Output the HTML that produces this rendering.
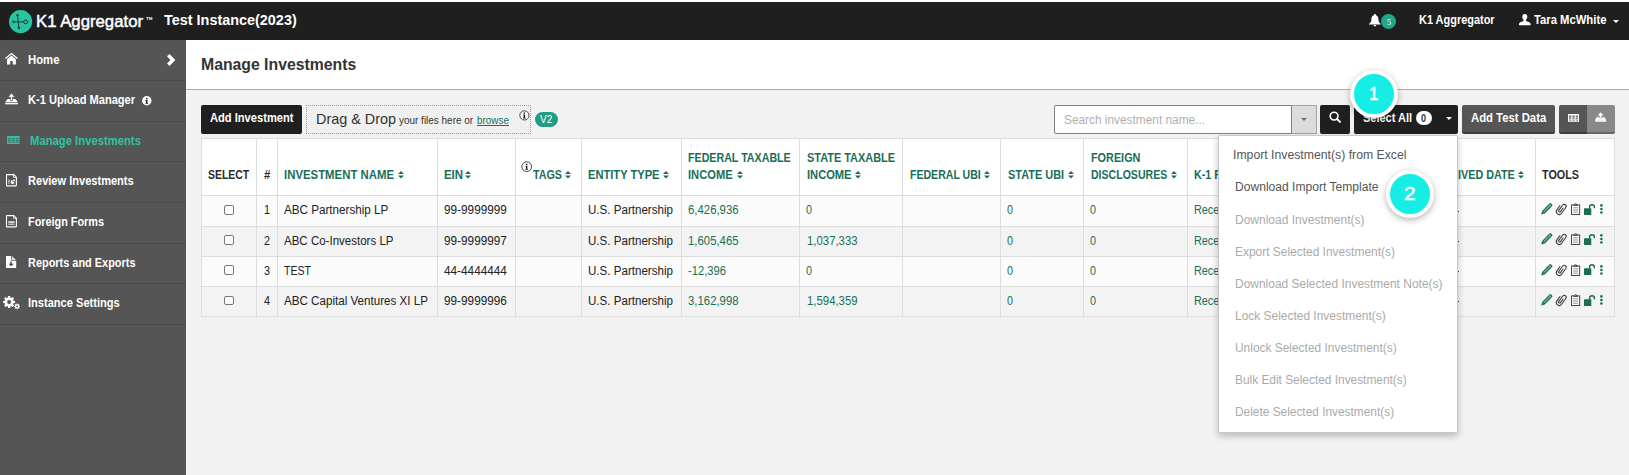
<!DOCTYPE html>
<html><head><meta charset="utf-8"><title>Manage Investments</title>
<style>
*{box-sizing:border-box;margin:0;padding:0}
html,body{width:1629px;height:475px;overflow:hidden;background:#f2f2f2;font-family:"Liberation Sans",sans-serif}
.a{position:absolute}
.t{position:absolute;white-space:pre;line-height:20px;height:20px;transform-origin:0 50%}
svg{position:absolute;overflow:visible}
.vl{position:absolute;top:138px;width:1px;height:179px;background:#ddd}
.hl{position:absolute;left:201px;width:1414px;height:1px;background:#ddd}
.sep{position:absolute;left:0;width:186px;height:1px;background:#494949}
.ball{position:absolute;width:48px;height:48px;border-radius:50%;background:#16eee5;border:4px solid #fff;box-shadow:0 2px 6px rgba(0,0,0,.3)}
</style></head><body>
<div class="a" style="left:0;top:0;width:1629px;height:2px;background:#fff"></div>
<div class="a" style="left:0;top:2px;width:1629px;height:38px;background:#1f1f1f"></div>
<div class="a" style="left:0;top:40px;width:186px;height:435px;background:#555"></div>
<div class="sep" style="top:80px"></div>
<div class="sep" style="top:121px"></div>
<div class="sep" style="top:161px"></div>
<div class="sep" style="top:202px"></div>
<div class="sep" style="top:243px"></div>
<div class="sep" style="top:283px"></div>
<div class="sep" style="top:324px"></div>
<div class="a" style="left:186px;top:40px;width:1443px;height:49px;background:#fff"></div>
<div class="a" style="left:186px;top:89px;width:1443px;height:1px;background:#aaa"></div>
<div class="a" style="left:201px;top:105px;width:101px;height:29px;background:#1f1f1f;border-radius:2px"></div>
<div class="a" style="left:306px;top:105px;width:225px;height:29px;border:1px dotted #999;background:#f0f0f0"></div>
<div class="a" style="left:535px;top:112px;width:23px;height:15px;border-radius:8px;background:#1f9e84"></div>
<div class="a" style="left:1054px;top:105px;width:238px;height:29px;background:#fff;border:1px solid #808080;border-radius:2px 0 0 2px"></div>
<div class="a" style="left:1291px;top:105px;width:26px;height:29px;background:#dcdcdc;border:1px solid #a4a4a4;border-left:1px solid #808080"></div>
<div class="a" style="left:1300.600px;top:117.800px;width:0;height:0;border-left:3.400px solid transparent;border-right:3.400px solid transparent;border-top:3.400px solid #707070"></div>
<div class="a" style="left:1320px;top:105px;width:30px;height:29px;background:#1f1f1f;border-radius:2px"></div>
<div class="a" style="left:1354px;top:105px;width:104px;height:29px;background:#1f1f1f;border-radius:2px"></div>
<div class="a" style="left:1416px;top:111px;width:16px;height:14px;border-radius:7px;background:#fff"></div>
<div class="a" style="left:1446px;top:117px;width:0;height:0;border-left:3px solid transparent;border-right:3px solid transparent;border-top:3px solid #fff"></div>
<div class="a" style="left:1462px;top:105px;width:93px;height:29px;background:#555;border-bottom:2px solid #3c3c3c;border-radius:2px"></div>
<div class="a" style="left:1559px;top:105px;width:28px;height:29px;background:#555;border-bottom:2px solid #3c3c3c;border-radius:2px 0 0 2px"></div>
<div class="a" style="left:1587px;top:105px;width:28px;height:29px;background:#888;border-bottom:2px solid #666;border-radius:0 2px 2px 0"></div>
<div class="a" style="left:201px;top:138px;width:1414px;height:58px;background:#fff"></div>
<div class="a" style="left:201px;top:195px;width:1414px;height:31px;background:#fbfbfb"></div>
<div class="a" style="left:201px;top:226px;width:1414px;height:30px;background:#f3f3f3"></div>
<div class="a" style="left:201px;top:256px;width:1414px;height:30px;background:#fbfbfb"></div>
<div class="a" style="left:201px;top:286px;width:1414px;height:30px;background:#f3f3f3"></div>
<div class="hl" style="top:138px"></div>
<div class="hl" style="top:195px"></div>
<div class="hl" style="top:226px"></div>
<div class="hl" style="top:256px"></div>
<div class="hl" style="top:286px"></div>
<div class="hl" style="top:316px"></div>
<div class="vl" style="left:201px"></div>
<div class="vl" style="left:256px"></div>
<div class="vl" style="left:277px"></div>
<div class="vl" style="left:437px"></div>
<div class="vl" style="left:515px"></div>
<div class="vl" style="left:581px"></div>
<div class="vl" style="left:681px"></div>
<div class="vl" style="left:799px"></div>
<div class="vl" style="left:902px"></div>
<div class="vl" style="left:1000px"></div>
<div class="vl" style="left:1083px"></div>
<div class="vl" style="left:1187px"></div>
<div class="vl" style="left:1535px"></div>
<div class="vl" style="left:1614px"></div>
<div class="a" style="left:224px;top:205.0px;width:9.5px;height:9.5px;border:1px solid #777;border-radius:2px;background:#fff"></div>
<div class="a" style="left:224px;top:235.2px;width:9.5px;height:9.5px;border:1px solid #777;border-radius:2px;background:#fff"></div>
<div class="a" style="left:224px;top:265.4px;width:9.5px;height:9.5px;border:1px solid #777;border-radius:2px;background:#fff"></div>
<div class="a" style="left:224px;top:295.6px;width:9.5px;height:9.5px;border:1px solid #777;border-radius:2px;background:#fff"></div>
<svg style="left:8.8px;top:9.7px" width="23.2" height="23.2" viewBox="0 0 23.2 23.2"><circle cx="11.6" cy="11.6" r="11.6" fill="#28c4a0"/><g stroke="#173029" stroke-width="0.95" fill="none"><path d="M8.6 6.2L9.3 11.6L9.8 17M5.300 11.900H14.600"/><circle cx="8.500" cy="5.300" r="0.9"/><circle cx="9.800" cy="17.900" r="0.9"/><circle cx="4.500" cy="11.900" r="0.9"/><circle cx="16.600" cy="11.900" r="1.9"/></g></svg>
<svg style="left:1368.8px;top:13.5px" width="11.8" height="12.4" viewBox="0 0 11.8 12.4"><path fill="#fff" d="M5.900 0C5.300 0 4.900 .4 4.900 1v.3C3.300 1.800 2.400 3.200 2.400 5c0 2.600-.8 3.900-2.400 4.900v.7h11.800v-.7C10.200 8.900 9.400 7.600 9.400 5c0-1.800-.9-3.200-2.500-3.700V1C6.900.4 6.500 0 5.900 0zM4.600 11.100a1.300 1.300 0 0 0 2.600 0z"/></svg>
<div class="a" style="left:1381.100px;top:13.800px;width:15.200px;height:15.200px;border-radius:50%;background:#20a88a"></div>
<svg style="left:1518.7px;top:13.5px" width="11.6" height="11.2" viewBox="0 0 11.6 11.2"><path fill="#fff" d="M5.800 0C4.200 0 3.300 1.200 3.300 2.800c0 1.400.6 2.500 1.300 3.100v1C3.200 7.600.2 8.200 0 9.700v1.500h11.600V9.700C11.400 8.200 8.400 7.600 7 6.900v-1c.7-.6 1.300-1.700 1.300-3.100C8.300 1.200 7.400 0 5.800 0z"/></svg>
<div class="a" style="left:1612.700px;top:19.800px;width:0;height:0;border-left:3.400px solid transparent;border-right:3.400px solid transparent;border-top:3.600px solid #fff"></div>
<svg style="left:5px;top:52.7px" width="13" height="11.5" viewBox="0 0 13 11.5"><path d="M0.400 5.500L6.450 0.600L12.500 5.500" stroke="#fff" stroke-width="1.300" fill="none"/><path fill="#fff" d="M2 6.200L6.450 2.600L10.900 6.200V11.400H7.700V8H5.200V11.400H2z"/></svg>
<svg style="left:166.9px;top:54px" width="8.4" height="12" viewBox="0 0 8.4 12"><path fill="#fff" d="M0 2.300L2.500 0L8.300 6L2.500 11.900L0 9.400L3.500 6z"/></svg>
<svg style="left:5px;top:92.8px" width="13.0" height="11.4" viewBox="0 0 13.0 11.4"><g transform="scale(1.0)"><path fill="#fff" d="M2.600 6H10.400L12.900 9.300H0.100z"/><rect fill="#fff" x="0.100" y="9.900" width="12.800" height="1.450"/><path fill="#fff" stroke="#555" stroke-width="0.700" d="M6.500 0L10 4.200H7.500V7.700H5.500V4.200H3z"/></g></svg>
<svg style="left:141.7px;top:96.3px" width="9.6" height="9.6" viewBox="0 0 9.6 9.6"><circle cx="4.800" cy="4.800" r="4.700" fill="#fff"/><rect x="4.100" y="1.900" width="1.400" height="1.400" fill="#111"/><path fill="#111" d="M3.600 4.100H5.500V7H6.100V7.800H3.500V7H4.100V4.900H3.600z"/></svg>
<svg style="left:7.1px;top:136.1px" width="12.6" height="8" viewBox="0 0 12.6 8"><rect width="12.6" height="8" fill="#2dc5a0"/><rect x="0.80" y="2.00" width="3.13" height="1.18" fill="#3a7d6c"/><rect x="4.73" y="2.00" width="3.13" height="1.18" fill="#3a7d6c"/><rect x="8.67" y="2.00" width="3.13" height="1.18" fill="#3a7d6c"/><rect x="0.80" y="3.78" width="3.13" height="1.18" fill="#3a7d6c"/><rect x="4.73" y="3.78" width="3.13" height="1.18" fill="#3a7d6c"/><rect x="8.67" y="3.78" width="3.13" height="1.18" fill="#3a7d6c"/><rect x="0.80" y="5.57" width="3.13" height="1.18" fill="#3a7d6c"/><rect x="4.73" y="5.57" width="3.13" height="1.18" fill="#3a7d6c"/><rect x="8.67" y="5.57" width="3.13" height="1.18" fill="#3a7d6c"/></svg>
<svg style="left:6px;top:173.5px" width="11" height="12.5" viewBox="0 0 11 12.5"><path d="M1.500 0.600H7.800L10.400 3.200V11.300Q10.400 11.900 9.800 11.900H1.100Q0.500 11.900 0.500 11.300V1.200Q0.500 0.600 1.100 0.600z" fill="none" stroke="#fff" stroke-width="1.100"/><path d="M7.600 0.600V3.400H10.400" fill="none" stroke="#fff" stroke-width="0.800"/><rect x="2.200" y="5.600" width="1.400" height="1.100" fill="#ddd"/><rect x="2.200" y="7.200" width="1.400" height="1.100" fill="#fff"/><rect x="2.200" y="8.900" width="1.400" height="0.900" fill="#ccc"/><path d="M6.600 5.900V7.900H8.600A2 2 0 1 1 6.600 5.900z" fill="#fff"/><path d="M7.200 5.300A2 2 0 0 1 9.200 7.300H7.200z" fill="#fff"/></svg>
<svg style="left:6px;top:214.5px" width="11" height="12.5" viewBox="0 0 11 12.5"><path d="M1.500 0.600H7.800L10.400 3.200V11.300Q10.400 11.900 9.800 11.900H1.100Q0.500 11.900 0.500 11.300V1.200Q0.500 0.600 1.100 0.600z" fill="none" stroke="#fff" stroke-width="1.100"/><path d="M7.600 0.600V3.400H10.400" fill="none" stroke="#fff" stroke-width="0.800"/><rect x="2.300" y="6.200" width="6.300" height="2.200" fill="#ddd"/><rect x="2.300" y="9.100" width="6.300" height="0.900" fill="#ccc"/></svg>
<svg style="left:6px;top:255.8px" width="10.3" height="12" viewBox="0 0 10.3 12"><path fill="#fff" d="M0.600 0H5.200V4.200Q5.200 4.800 5.800 4.800H10.200V11.400Q10.200 12 9.600 12H0.600Q0 12 0 11.400V0.600Q0 0 0.600 0z"/><path fill="#e8e8e8" d="M6 0.200L10 4H6z"/><path fill="#444" d="M4.400 5.600H5.800V7.800H7.600L5.100 10.300L2.600 7.800H4.400z"/></svg>
<svg style="left:3px;top:296px" width="17.2" height="13.3" viewBox="0 0 17.2 13.3"><path fill="#fff" d="M10.31 4.71L12.10 4.90L12.10 7.10L10.31 7.29L9.99 8.06L11.12 9.46L9.56 11.02L8.16 9.89L7.39 10.21L7.20 12.00L5.00 12.00L4.81 10.21L4.04 9.89L2.64 11.02L1.08 9.46L2.21 8.06L1.89 7.29L0.10 7.10L0.10 4.90L1.89 4.71L2.21 3.94L1.08 2.54L2.64 0.98L4.04 2.11L4.81 1.79L5.00 0.00L7.20 0.00L7.39 1.79L8.16 2.11L9.56 0.98L11.12 2.54L9.99 3.94z"/><circle cx="6.1" cy="6" r="2" fill="#555"/><path fill="#fff" d="M16.11 9.79L16.95 9.88L16.95 10.92L16.11 11.01L15.95 11.39L16.49 12.05L15.75 12.79L15.09 12.25L14.71 12.41L14.62 13.25L13.58 13.25L13.49 12.41L13.11 12.25L12.45 12.79L11.71 12.05L12.25 11.39L12.09 11.01L11.25 10.92L11.25 9.88L12.09 9.79L12.25 9.41L11.71 8.75L12.45 8.01L13.11 8.55L13.49 8.39L13.58 7.55L14.62 7.55L14.71 8.39L15.09 8.55L15.75 8.01L16.49 8.75L15.95 9.41z"/><circle cx="14.1" cy="10.4" r="0.9" fill="#555"/></svg>
<svg style="left:518.5px;top:110.4px" width="10.8" height="10.8" viewBox="0 0 10.8 10.8"><circle cx="5.4" cy="5.4" r="4.6000000000000005" fill="#fcfcfc" stroke="#333" stroke-width="0.900"/><rect x="4.65" y="2.4000000000000004" width="1.400" height="1.300" fill="#111"/><path fill="#111" d="M4.2 4.4H6.050000000000001V7.6000000000000005H6.6000000000000005V8.4H4.1000000000000005V7.6000000000000005H4.7V5.15H4.2z"/></svg>
<svg style="left:521.3px;top:160.7px" width="11.4" height="11.4" viewBox="0 0 11.4 11.4"><circle cx="5.7" cy="5.7" r="4.9" fill="#fcfcfc" stroke="#333" stroke-width="0.900"/><rect x="4.95" y="2.7" width="1.400" height="1.300" fill="#111"/><path fill="#111" d="M4.5 4.7H6.3500000000000005V7.9H6.9V8.7H4.4V7.9H5.0V5.45H4.5z"/></svg>
<svg style="left:397.6px;top:170.5px" width="6" height="7.6" viewBox="0 0 6 7.6"><path fill="#1a6e57" d="M3 0L6 2.900H0zM0 4.600H6L3 7.500z"/></svg>
<svg style="left:465.2px;top:170.5px" width="6" height="7.6" viewBox="0 0 6 7.6"><path fill="#1a6e57" d="M3 0L6 2.900H0zM0 4.600H6L3 7.500z"/></svg>
<svg style="left:565.2px;top:170.5px" width="6" height="7.6" viewBox="0 0 6 7.6"><path fill="#1a6e57" d="M3 0L6 2.900H0zM0 4.600H6L3 7.500z"/></svg>
<svg style="left:663.2px;top:170.5px" width="6" height="7.6" viewBox="0 0 6 7.6"><path fill="#1a6e57" d="M3 0L6 2.900H0zM0 4.600H6L3 7.500z"/></svg>
<svg style="left:736.7px;top:170.5px" width="6" height="7.6" viewBox="0 0 6 7.6"><path fill="#1a6e57" d="M3 0L6 2.900H0zM0 4.600H6L3 7.500z"/></svg>
<svg style="left:854.7px;top:170.5px" width="6" height="7.6" viewBox="0 0 6 7.6"><path fill="#1a6e57" d="M3 0L6 2.900H0zM0 4.600H6L3 7.500z"/></svg>
<svg style="left:984.3px;top:170.5px" width="6" height="7.6" viewBox="0 0 6 7.6"><path fill="#1a6e57" d="M3 0L6 2.900H0zM0 4.600H6L3 7.500z"/></svg>
<svg style="left:1067.9px;top:170.5px" width="6" height="7.6" viewBox="0 0 6 7.6"><path fill="#1a6e57" d="M3 0L6 2.900H0zM0 4.600H6L3 7.500z"/></svg>
<svg style="left:1171.1px;top:170.5px" width="6" height="7.6" viewBox="0 0 6 7.6"><path fill="#1a6e57" d="M3 0L6 2.900H0zM0 4.600H6L3 7.500z"/></svg>
<svg style="left:1518.1px;top:170.5px" width="6" height="7.6" viewBox="0 0 6 7.6"><path fill="#1a6e57" d="M3 0L6 2.900H0zM0 4.600H6L3 7.500z"/></svg>
<svg style="left:1328.8px;top:110.9px" width="13" height="13" viewBox="0 0 13 13"><circle cx="5.100" cy="5.100" r="3.900" fill="none" stroke="#fff" stroke-width="1.600"/><path d="M8 8L11 10.900" stroke="#fff" stroke-width="2" stroke-linecap="round"/></svg>
<svg style="left:1567.5px;top:113.9px" width="11" height="7.8" viewBox="0 0 11 7.8"><rect width="11" height="7.8" fill="#fff"/><rect x="1.10" y="1.50" width="2.20" height="1.77" fill="#6c6c6c"/><rect x="1.10" y="3.52" width="2.20" height="1.77" fill="#858585"/><rect x="1.10" y="5.53" width="2.20" height="1.77" fill="#a8a8a8"/><rect x="4.40" y="1.50" width="2.20" height="1.77" fill="#6c6c6c"/><rect x="4.40" y="3.52" width="2.20" height="1.77" fill="#858585"/><rect x="4.40" y="5.53" width="2.20" height="1.77" fill="#a8a8a8"/><rect x="7.70" y="1.50" width="2.20" height="1.77" fill="#6c6c6c"/><rect x="7.70" y="3.52" width="2.20" height="1.77" fill="#858585"/><rect x="7.70" y="5.53" width="2.20" height="1.77" fill="#a8a8a8"/></svg>
<svg style="left:1595.2px;top:112.2px" width="11.2" height="9.8" viewBox="0 0 11.2 9.8"><path fill="#fff" d="M1.500 5.300H9.700L11.100 8V9.700H0.100V8z"/><path d="M0.600 8.250H10.600" stroke="#d0d0d0" stroke-width="0.500"/><path fill="#fff" stroke="#888" stroke-width="0.450" d="M5.600 -0.100L8.800 3.700H6.650V6.200H4.550V3.700H2.400z"/></svg>
<svg style="left:1541.3px;top:203.1px" width="11.6" height="11.7" viewBox="0 0 11.6 11.7"><path fill="#1a6e57" d="M8.600 0.300Q9.300 -0.300 10 0.400L11.200 1.600Q11.800 2.300 11.200 3L3.700 10.400L0.200 11.600L1.200 8z"/><path d="M2.600 8.900L9.200 2.400" stroke="#cfeee4" stroke-width="0.900"/><path d="M8.100 1.200L10.400 3.500" stroke="#e8f5f0" stroke-width="0.600"/></svg>
<svg style="left:1556px;top:203.1px" width="10.5" height="12" viewBox="0 0 10.5 12"><g transform="translate(5.200 5.900) rotate(36)"><path fill="none" stroke="#333" stroke-width="1" stroke-linecap="round" d="M-2.900 -2V3.300A2.900 2.900 0 0 0 2.900 3.300V-3.800A2 2 0 0 0 -1.100 -3.800V2.600A1.050 1.050 0 0 0 1 2.600V-1.800"/></g></svg>
<svg style="left:1571px;top:203.1px" width="9.2" height="12" viewBox="0 0 9.2 12"><rect x="0.500" y="1.900" width="8.200" height="9.600" fill="#fdfdfd" stroke="#333" stroke-width="0.900"/><path fill="#333" d="M2.300 2.800V1.700H3.500Q3.600 0.200 4.600 0.200Q5.600 0.200 5.700 1.700H6.900V2.800z"/><circle cx="4.600" cy="1.200" r="0.450" fill="#fff"/><path d="M2 4.600H7.200M2 6.200H7.200M2 7.800H7.200M2 9.400H7.200" stroke="#999" stroke-width="0.800"/></svg>
<svg style="left:1583.9px;top:203.9px" width="11.2" height="11" viewBox="0 0 11.2 11"><rect x="0" y="4.200" width="7.300" height="6.700" rx="0.500" fill="#1a6e57"/><path fill="none" stroke="#1a6e57" stroke-width="1.400" d="M5.600 4.400V2.900Q5.700 0.700 8 0.700Q10.300 0.700 10.400 2.900V4.200"/></svg>
<svg style="left:1599.8px;top:204.2px" width="2.8" height="10" viewBox="0 0 2.8 10"><circle cx="1.400" cy="1.400" r="1.300" fill="#1a6e57"/><circle cx="1.400" cy="4.950" r="1.300" fill="#1a6e57"/><circle cx="1.400" cy="8.500" r="1.300" fill="#1a6e57"/></svg>
<div class="a" style="left:1457.500px;top:210.5px;width:1.200px;height:1.400px;background:#444"></div>
<svg style="left:1541.3px;top:233.3px" width="11.6" height="11.7" viewBox="0 0 11.6 11.7"><path fill="#1a6e57" d="M8.600 0.300Q9.300 -0.300 10 0.400L11.200 1.600Q11.800 2.300 11.200 3L3.700 10.400L0.200 11.600L1.200 8z"/><path d="M2.600 8.900L9.200 2.400" stroke="#cfeee4" stroke-width="0.900"/><path d="M8.100 1.200L10.400 3.500" stroke="#e8f5f0" stroke-width="0.600"/></svg>
<svg style="left:1556px;top:233.3px" width="10.5" height="12" viewBox="0 0 10.5 12"><g transform="translate(5.200 5.900) rotate(36)"><path fill="none" stroke="#333" stroke-width="1" stroke-linecap="round" d="M-2.900 -2V3.300A2.900 2.900 0 0 0 2.900 3.300V-3.800A2 2 0 0 0 -1.100 -3.800V2.600A1.050 1.050 0 0 0 1 2.600V-1.800"/></g></svg>
<svg style="left:1571px;top:233.3px" width="9.2" height="12" viewBox="0 0 9.2 12"><rect x="0.500" y="1.900" width="8.200" height="9.600" fill="#fdfdfd" stroke="#333" stroke-width="0.900"/><path fill="#333" d="M2.300 2.800V1.700H3.500Q3.600 0.200 4.600 0.200Q5.600 0.200 5.700 1.700H6.900V2.800z"/><circle cx="4.600" cy="1.200" r="0.450" fill="#fff"/><path d="M2 4.600H7.200M2 6.200H7.200M2 7.800H7.200M2 9.400H7.200" stroke="#999" stroke-width="0.800"/></svg>
<svg style="left:1583.9px;top:234.1px" width="11.2" height="11" viewBox="0 0 11.2 11"><rect x="0" y="4.200" width="7.300" height="6.700" rx="0.500" fill="#1a6e57"/><path fill="none" stroke="#1a6e57" stroke-width="1.400" d="M5.600 4.400V2.900Q5.700 0.700 8 0.700Q10.300 0.700 10.400 2.900V4.200"/></svg>
<svg style="left:1599.8px;top:234.4px" width="2.8" height="10" viewBox="0 0 2.8 10"><circle cx="1.400" cy="1.400" r="1.300" fill="#1a6e57"/><circle cx="1.400" cy="4.950" r="1.300" fill="#1a6e57"/><circle cx="1.400" cy="8.500" r="1.300" fill="#1a6e57"/></svg>
<div class="a" style="left:1457.500px;top:240.7px;width:1.200px;height:1.400px;background:#444"></div>
<svg style="left:1541.3px;top:263.5px" width="11.6" height="11.7" viewBox="0 0 11.6 11.7"><path fill="#1a6e57" d="M8.600 0.300Q9.300 -0.300 10 0.400L11.200 1.600Q11.800 2.300 11.200 3L3.700 10.400L0.200 11.600L1.200 8z"/><path d="M2.600 8.900L9.200 2.400" stroke="#cfeee4" stroke-width="0.900"/><path d="M8.100 1.200L10.400 3.500" stroke="#e8f5f0" stroke-width="0.600"/></svg>
<svg style="left:1556px;top:263.5px" width="10.5" height="12" viewBox="0 0 10.5 12"><g transform="translate(5.200 5.900) rotate(36)"><path fill="none" stroke="#333" stroke-width="1" stroke-linecap="round" d="M-2.900 -2V3.300A2.900 2.900 0 0 0 2.900 3.300V-3.800A2 2 0 0 0 -1.100 -3.800V2.600A1.050 1.050 0 0 0 1 2.600V-1.800"/></g></svg>
<svg style="left:1571px;top:263.5px" width="9.2" height="12" viewBox="0 0 9.2 12"><rect x="0.500" y="1.900" width="8.200" height="9.600" fill="#fdfdfd" stroke="#333" stroke-width="0.900"/><path fill="#333" d="M2.300 2.800V1.700H3.500Q3.600 0.200 4.600 0.200Q5.600 0.200 5.700 1.700H6.900V2.800z"/><circle cx="4.600" cy="1.200" r="0.450" fill="#fff"/><path d="M2 4.600H7.200M2 6.200H7.200M2 7.800H7.200M2 9.400H7.200" stroke="#999" stroke-width="0.800"/></svg>
<svg style="left:1583.9px;top:264.3px" width="11.2" height="11" viewBox="0 0 11.2 11"><rect x="0" y="4.200" width="7.300" height="6.700" rx="0.500" fill="#1a6e57"/><path fill="none" stroke="#1a6e57" stroke-width="1.400" d="M5.600 4.400V2.900Q5.700 0.700 8 0.700Q10.300 0.700 10.400 2.900V4.200"/></svg>
<svg style="left:1599.8px;top:264.6px" width="2.8" height="10" viewBox="0 0 2.8 10"><circle cx="1.400" cy="1.400" r="1.300" fill="#1a6e57"/><circle cx="1.400" cy="4.950" r="1.300" fill="#1a6e57"/><circle cx="1.400" cy="8.500" r="1.300" fill="#1a6e57"/></svg>
<div class="a" style="left:1457.500px;top:270.9px;width:1.200px;height:1.400px;background:#444"></div>
<svg style="left:1541.3px;top:293.7px" width="11.6" height="11.7" viewBox="0 0 11.6 11.7"><path fill="#1a6e57" d="M8.600 0.300Q9.300 -0.300 10 0.400L11.200 1.600Q11.800 2.300 11.200 3L3.700 10.400L0.200 11.600L1.200 8z"/><path d="M2.600 8.900L9.200 2.400" stroke="#cfeee4" stroke-width="0.900"/><path d="M8.100 1.200L10.400 3.500" stroke="#e8f5f0" stroke-width="0.600"/></svg>
<svg style="left:1556px;top:293.7px" width="10.5" height="12" viewBox="0 0 10.5 12"><g transform="translate(5.200 5.900) rotate(36)"><path fill="none" stroke="#333" stroke-width="1" stroke-linecap="round" d="M-2.900 -2V3.300A2.900 2.900 0 0 0 2.900 3.300V-3.800A2 2 0 0 0 -1.100 -3.800V2.600A1.050 1.050 0 0 0 1 2.600V-1.800"/></g></svg>
<svg style="left:1571px;top:293.7px" width="9.2" height="12" viewBox="0 0 9.2 12"><rect x="0.500" y="1.900" width="8.200" height="9.600" fill="#fdfdfd" stroke="#333" stroke-width="0.900"/><path fill="#333" d="M2.300 2.800V1.700H3.500Q3.600 0.200 4.600 0.200Q5.600 0.200 5.700 1.700H6.900V2.800z"/><circle cx="4.600" cy="1.200" r="0.450" fill="#fff"/><path d="M2 4.600H7.200M2 6.200H7.200M2 7.800H7.200M2 9.400H7.200" stroke="#999" stroke-width="0.800"/></svg>
<svg style="left:1583.9px;top:294.5px" width="11.2" height="11" viewBox="0 0 11.2 11"><rect x="0" y="4.200" width="7.300" height="6.700" rx="0.500" fill="#1a6e57"/><path fill="none" stroke="#1a6e57" stroke-width="1.400" d="M5.600 4.400V2.900Q5.700 0.700 8 0.700Q10.300 0.700 10.400 2.900V4.200"/></svg>
<svg style="left:1599.8px;top:294.8px" width="2.8" height="10" viewBox="0 0 2.8 10"><circle cx="1.400" cy="1.400" r="1.300" fill="#1a6e57"/><circle cx="1.400" cy="4.950" r="1.300" fill="#1a6e57"/><circle cx="1.400" cy="8.500" r="1.300" fill="#1a6e57"/></svg>
<div class="a" style="left:1457.500px;top:301.1px;width:1.200px;height:1.400px;background:#444"></div>
<span class='t' style='left:35.75px;top:12px;font-size:16px;font-weight:normal;color:#fff;transform:scaleX(1.0462);-webkit-text-stroke:0.450px #fff;'>K1 Aggregator</span>
<span class='t' style='left:145.60px;top:9px;font-size:4px;font-weight:bold;color:#fff;transform:scaleX(1.0864);'>TM</span>
<span class='t' style='left:163.60px;top:10px;font-size:15px;font-weight:bold;color:#fff;transform:scaleX(0.9608);'>Test Instance(2023)</span>
<span class='t' style='left:1419.30px;top:10px;font-size:12px;font-weight:bold;color:#fff;transform:scaleX(0.9119);'>K1 Aggregator</span>
<span class='t' style='left:1534.30px;top:10px;font-size:12px;font-weight:bold;color:#fff;transform:scaleX(0.9387);'>Tara McWhite</span>
<span class='t' style='left:1386.55px;top:12px;font-size:9px;font-weight:normal;color:#fff;transform:scaleX(0.9000);font-family:"Liberation Serif",serif;'>5</span>
<span class='t' style='left:28.20px;top:50px;font-size:12px;font-weight:bold;color:#fff;transform:scaleX(0.9446);'>Home</span>
<span class='t' style='left:28.20px;top:90px;font-size:12px;font-weight:bold;color:#fff;transform:scaleX(0.9231);'>K-1 Upload Manager</span>
<span class='t' style='left:30.00px;top:131px;font-size:12px;font-weight:bold;color:#2dc4a0;transform:scaleX(0.9395);'>Manage Investments</span>
<span class='t' style='left:28.20px;top:171px;font-size:12px;font-weight:bold;color:#fff;transform:scaleX(0.9214);'>Review Investments</span>
<span class='t' style='left:28.20px;top:212px;font-size:12px;font-weight:bold;color:#fff;transform:scaleX(0.9048);'>Foreign Forms</span>
<span class='t' style='left:28.20px;top:253px;font-size:12px;font-weight:bold;color:#fff;transform:scaleX(0.9109);'>Reports and Exports</span>
<span class='t' style='left:28.20px;top:293px;font-size:12px;font-weight:bold;color:#fff;transform:scaleX(0.9229);'>Instance Settings</span>
<span class='t' style='left:201.01px;top:55px;font-size:16px;font-weight:bold;color:#333;transform:scaleX(0.9860);'>Manage Investments</span>
<span class='t' style='left:209.80px;top:108px;font-size:12px;font-weight:bold;color:#fff;transform:scaleX(0.9276);'>Add Investment</span>
<span class='t' style='left:315.61px;top:109px;font-size:14.5px;font-weight:normal;color:#333;transform:scaleX(0.9934);'>Drag &amp; Drop</span>
<span class='t' style='left:399.10px;top:110px;font-size:11px;font-weight:normal;color:#333;transform:scaleX(0.9044);'>your files here or</span>
<span class='t' style='left:477.20px;top:110px;font-size:11px;font-weight:normal;color:#1a6e57;transform:scaleX(0.9026);text-decoration:underline;'>browse</span>
<span class='t' style='left:539.90px;top:109px;font-size:10.5px;font-weight:normal;color:#fff;transform:scaleX(0.9536);'>V2</span>
<span class='t' style='left:1064.30px;top:110px;font-size:12px;font-weight:normal;color:#b0b0b0;transform:scaleX(0.9881);'>Search investment name...</span>
<span class='t' style='left:1363.00px;top:108px;font-size:12px;font-weight:bold;color:#fff;transform:scaleX(0.9164);'>Select All</span>
<span class='t' style='left:1421.30px;top:109px;font-size:10px;font-weight:bold;color:#2a3342;transform:scaleX(0.9000);'>0</span>
<span class='t' style='left:1470.80px;top:108px;font-size:12px;font-weight:bold;color:#fff;transform:scaleX(0.9424);'>Add Test Data</span>
<span class='t' style='left:207.60px;top:165px;font-size:12px;font-weight:bold;color:#2a2a2a;transform:scaleX(0.8707);'>SELECT</span>
<span class='t' style='left:264.10px;top:165px;font-size:12px;font-weight:bold;color:#2a2a2a;transform:scaleX(0.9429);'>#</span>
<span class='t' style='left:284.20px;top:165px;font-size:12px;font-weight:bold;color:#1a6e57;transform:scaleX(0.9483);'>INVESTMENT NAME</span>
<span class='t' style='left:443.80px;top:165px;font-size:12px;font-weight:bold;color:#1a6e57;transform:scaleX(0.9515);'>EIN</span>
<span class='t' style='left:532.70px;top:165px;font-size:12px;font-weight:bold;color:#1a6e57;transform:scaleX(0.8940);'>TAGS</span>
<span class='t' style='left:588.10px;top:165px;font-size:12px;font-weight:bold;color:#1a6e57;transform:scaleX(0.9271);'>ENTITY TYPE</span>
<span class='t' style='left:688.30px;top:148px;font-size:12px;font-weight:bold;color:#1a6e57;transform:scaleX(0.8888);'>FEDERAL TAXABLE</span>
<span class='t' style='left:688.30px;top:165px;font-size:12px;font-weight:bold;color:#1a6e57;transform:scaleX(0.9313);'>INCOME</span>
<span class='t' style='left:806.50px;top:148px;font-size:12px;font-weight:bold;color:#1a6e57;transform:scaleX(0.9104);'>STATE TAXABLE</span>
<span class='t' style='left:806.50px;top:165px;font-size:12px;font-weight:bold;color:#1a6e57;transform:scaleX(0.9272);'>INCOME</span>
<span class='t' style='left:909.50px;top:165px;font-size:12px;font-weight:bold;color:#1a6e57;transform:scaleX(0.8801);'>FEDERAL UBI</span>
<span class='t' style='left:1007.70px;top:165px;font-size:12px;font-weight:bold;color:#1a6e57;transform:scaleX(0.9115);'>STATE UBI</span>
<span class='t' style='left:1090.70px;top:148px;font-size:12px;font-weight:bold;color:#1a6e57;transform:scaleX(0.9037);'>FOREIGN</span>
<span class='t' style='left:1090.70px;top:165px;font-size:12px;font-weight:bold;color:#1a6e57;transform:scaleX(0.8792);'>DISCLOSURES</span>
<span class='t' style='left:1194.40px;top:165px;font-size:12px;font-weight:bold;color:#1a6e57;transform:scaleX(0.8965);'>K-1 F</span>
<span class='t' style='left:1458.00px;top:165px;font-size:12px;font-weight:bold;color:#1a6e57;transform:scaleX(0.8984);'>IVED DATE</span>
<span class='t' style='left:1542.00px;top:165px;font-size:12px;font-weight:bold;color:#2a2a2a;transform:scaleX(0.9000);'>TOOLS</span>
<span class='t' style='left:263.50px;top:200px;font-size:12px;font-weight:normal;color:#222;transform:scaleX(0.9000);'>1</span>
<span class='t' style='left:284.20px;top:200px;font-size:12px;font-weight:normal;color:#222;transform:scaleX(0.9713);'>ABC Partnership LP</span>
<span class='t' style='left:444.10px;top:200px;font-size:12px;font-weight:normal;color:#222;transform:scaleX(0.9816);'>99-9999999</span>
<span class='t' style='left:588.10px;top:200px;font-size:12px;font-weight:normal;color:#222;transform:scaleX(0.9653);'>U.S. Partnership</span>
<span class='t' style='left:688.30px;top:200px;font-size:12px;font-weight:normal;color:#1a6e57;transform:scaleX(0.9477);'>6,426,936</span>
<span class='t' style='left:806.20px;top:200px;font-size:12px;font-weight:normal;color:#1a6e57;transform:scaleX(0.9000);'>0</span>
<span class='t' style='left:1007.45px;top:200px;font-size:12px;font-weight:normal;color:#1a6e57;transform:scaleX(0.9000);'>0</span>
<span class='t' style='left:1090.45px;top:200px;font-size:12px;font-weight:normal;color:#1a6e57;transform:scaleX(0.9000);'>0</span>
<span class='t' style='left:1194.40px;top:200px;font-size:12px;font-weight:normal;color:#1a6e57;transform:scaleX(0.9033);'>Rece</span>
<span class='t' style='left:263.50px;top:231px;font-size:12px;font-weight:normal;color:#222;transform:scaleX(0.9000);'>2</span>
<span class='t' style='left:284.20px;top:231px;font-size:12px;font-weight:normal;color:#222;transform:scaleX(0.9602);'>ABC Co-Investors LP</span>
<span class='t' style='left:444.10px;top:231px;font-size:12px;font-weight:normal;color:#222;transform:scaleX(0.9816);'>99-9999997</span>
<span class='t' style='left:588.10px;top:231px;font-size:12px;font-weight:normal;color:#222;transform:scaleX(0.9653);'>U.S. Partnership</span>
<span class='t' style='left:688.30px;top:231px;font-size:12px;font-weight:normal;color:#1a6e57;transform:scaleX(0.9477);'>1,605,465</span>
<span class='t' style='left:806.50px;top:231px;font-size:12px;font-weight:normal;color:#1a6e57;transform:scaleX(0.9477);'>1,037,333</span>
<span class='t' style='left:1007.45px;top:231px;font-size:12px;font-weight:normal;color:#1a6e57;transform:scaleX(0.9000);'>0</span>
<span class='t' style='left:1090.45px;top:231px;font-size:12px;font-weight:normal;color:#1a6e57;transform:scaleX(0.9000);'>0</span>
<span class='t' style='left:1194.40px;top:231px;font-size:12px;font-weight:normal;color:#1a6e57;transform:scaleX(0.9033);'>Rece</span>
<span class='t' style='left:263.50px;top:261px;font-size:12px;font-weight:normal;color:#222;transform:scaleX(0.9000);'>3</span>
<span class='t' style='left:284.20px;top:261px;font-size:12px;font-weight:normal;color:#222;transform:scaleX(0.8807);'>TEST</span>
<span class='t' style='left:444.10px;top:261px;font-size:12px;font-weight:normal;color:#222;transform:scaleX(0.9816);'>44-4444444</span>
<span class='t' style='left:588.10px;top:261px;font-size:12px;font-weight:normal;color:#222;transform:scaleX(0.9653);'>U.S. Partnership</span>
<span class='t' style='left:688.30px;top:261px;font-size:12px;font-weight:normal;color:#1a6e57;transform:scaleX(0.9336);'>-12,396</span>
<span class='t' style='left:806.20px;top:261px;font-size:12px;font-weight:normal;color:#1a6e57;transform:scaleX(0.9000);'>0</span>
<span class='t' style='left:1007.45px;top:261px;font-size:12px;font-weight:normal;color:#1a6e57;transform:scaleX(0.9000);'>0</span>
<span class='t' style='left:1090.45px;top:261px;font-size:12px;font-weight:normal;color:#1a6e57;transform:scaleX(0.9000);'>0</span>
<span class='t' style='left:1194.40px;top:261px;font-size:12px;font-weight:normal;color:#1a6e57;transform:scaleX(0.9033);'>Rece</span>
<span class='t' style='left:263.50px;top:291px;font-size:12px;font-weight:normal;color:#222;transform:scaleX(0.9000);'>4</span>
<span class='t' style='left:284.20px;top:291px;font-size:12px;font-weight:normal;color:#222;transform:scaleX(0.9681);'>ABC Capital Ventures XI LP</span>
<span class='t' style='left:444.10px;top:291px;font-size:12px;font-weight:normal;color:#222;transform:scaleX(0.9816);'>99-9999996</span>
<span class='t' style='left:588.10px;top:291px;font-size:12px;font-weight:normal;color:#222;transform:scaleX(0.9653);'>U.S. Partnership</span>
<span class='t' style='left:688.30px;top:291px;font-size:12px;font-weight:normal;color:#1a6e57;transform:scaleX(0.9477);'>3,162,998</span>
<span class='t' style='left:806.50px;top:291px;font-size:12px;font-weight:normal;color:#1a6e57;transform:scaleX(0.9477);'>1,594,359</span>
<span class='t' style='left:1007.45px;top:291px;font-size:12px;font-weight:normal;color:#1a6e57;transform:scaleX(0.9000);'>0</span>
<span class='t' style='left:1090.45px;top:291px;font-size:12px;font-weight:normal;color:#1a6e57;transform:scaleX(0.9000);'>0</span>
<span class='t' style='left:1194.40px;top:291px;font-size:12px;font-weight:normal;color:#1a6e57;transform:scaleX(0.9033);'>Rece</span>
<div class="a" style="left:1218px;top:135px;width:240px;height:298px;background:#fff;border:1px solid #c8c8c8;border-radius:2px;box-shadow:0 3px 7px rgba(0,0,0,.24)"></div>
<span class='t' style='left:1233.48px;top:145px;font-size:12px;font-weight:normal;color:#555;transform:scaleX(1.0204);'>Import Investment(s) from Excel</span>
<span class='t' style='left:1234.50px;top:177px;font-size:12px;font-weight:normal;color:#555;transform:scaleX(1.0073);'>Download Import Template</span>
<span class='t' style='left:1234.50px;top:210px;font-size:12px;font-weight:normal;color:#aaaaaa;transform:scaleX(1.0008);'>Download Investment(s)</span>
<span class='t' style='left:1234.50px;top:242px;font-size:12px;font-weight:normal;color:#aaaaaa;transform:scaleX(0.9948);'>Export Selected Investment(s)</span>
<span class='t' style='left:1234.50px;top:274px;font-size:12px;font-weight:normal;color:#aaaaaa;transform:scaleX(0.9971);'>Download Selected Investment Note(s)</span>
<span class='t' style='left:1234.50px;top:306px;font-size:12px;font-weight:normal;color:#aaaaaa;transform:scaleX(0.9953);'>Lock Selected Investment(s)</span>
<span class='t' style='left:1234.50px;top:338px;font-size:12px;font-weight:normal;color:#aaaaaa;transform:scaleX(0.9936);'>Unlock Selected Investment(s)</span>
<span class='t' style='left:1234.50px;top:370px;font-size:12px;font-weight:normal;color:#aaaaaa;transform:scaleX(0.9901);'>Bulk Edit Selected Investment(s)</span>
<span class='t' style='left:1234.50px;top:402px;font-size:12px;font-weight:normal;color:#aaaaaa;transform:scaleX(0.9898);'>Delete Selected Investment(s)</span>
<div class="ball" style="left:1350px;top:70px"></div>
<div class="ball" style="left:1386px;top:170px"></div>
<span class='t' style='left:1368.80px;top:84px;font-size:19px;font-weight:normal;color:#fff;transform:scaleX(0.9000);-webkit-text-stroke:0.5px #fff;'>1</span>
<span class='t' style='left:1404.00px;top:184px;font-size:19px;font-weight:normal;color:#fff;transform:scaleX(1.1000);-webkit-text-stroke:0.5px #fff;'>2</span>
</body></html>
